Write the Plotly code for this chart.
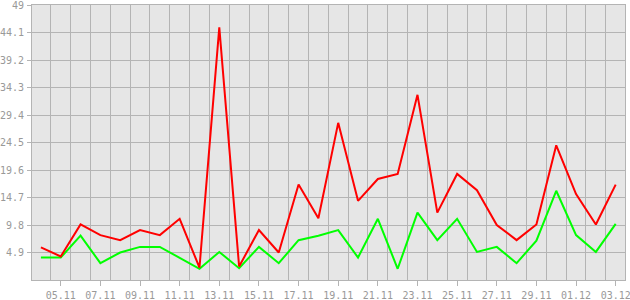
import plotly.graph_objects as go

dates = ["04.11", "05.11", "06.11", "07.11", "08.11", "09.11", "10.11", "11.11", "12.11", "13.11",
         "14.11", "15.11", "16.11", "17.11", "18.11", "19.11", "20.11", "21.11", "22.11", "23.11",
         "24.11", "25.11", "26.11", "27.11", "28.11", "29.11", "30.11", "01.12", "02.12", "03.12"]

red_values = [5.8, 4.2, 9.9, 8.0, 7.1, 8.9, 8.0, 10.9, 2.2, 45.0,
              2.4, 8.9, 4.9, 17.0, 11.0, 28.0, 14.1, 18.0, 18.9, 33.0,
              12.0, 18.9, 16.0, 9.8, 7.1, 9.9, 24.0, 15.3, 9.9, 17.0]

green_values = [4.0, 4.0, 7.9, 3.0, 4.9, 5.9, 5.9, 4.0, 2.0, 5.0,
                2.1, 5.9, 3.0, 7.1, 7.9, 8.9, 4.0, 10.9, 2.0, 12.0,
                7.1, 10.9, 5.0, 5.9, 3.0, 7.0, 15.9, 8.0, 5.0, 10.0]

y_ticks = [4.9, 9.8, 14.7, 19.6, 24.5, 29.4, 34.3, 39.2, 44.1, 49]
y_tick_labels = ["4.9", "9.8", "14.7", "19.6", "24.5", "29.4", "34.3", "39.2", "44.1", "49"]

idx = list(range(len(dates)))
x_tick_idx = idx[1::2]
x_tick_labels = dates[1::2]

grid = "#b4b4b4"
font = dict(family="DejaVu Sans Mono", size=10, color="#999999")

fig = go.Figure()
fig.add_trace(go.Scatter(x=idx, y=green_values, mode="lines",
                         line=dict(color="#00ff00", width=2), showlegend=False))
fig.add_trace(go.Scatter(x=idx, y=red_values, mode="lines",
                         line=dict(color="#ff0000", width=2), showlegend=False))

fig.update_layout(
    width=630, height=300,
    margin=dict(l=32, r=5, t=5, b=20),
    paper_bgcolor="white", plot_bgcolor="#e6e6e6",
    font=font,
)
fig.update_xaxes(
    range=[-0.45, 29.47], automargin=False, ticklabeloverflow="allow",
    tickmode="array", tickvals=x_tick_idx, ticktext=x_tick_labels,
    showgrid=False, zeroline=False,
    ticks="outside", ticklen=5, tickcolor=grid, tickwidth=1,
    showline=True, linecolor=grid, linewidth=1, mirror=True,
    tickfont=font, ticklabelstandoff=1,
    minor=dict(tick0=0.5, dtick=1, showgrid=True, gridcolor=grid, gridwidth=1, ticklen=0),
)
fig.update_yaxes(
    range=[0, 49], automargin=False, ticklabeloverflow="allow",
    tickmode="array", tickvals=y_ticks, ticktext=y_tick_labels,
    showgrid=True, gridcolor=grid, gridwidth=1, zeroline=False,
    ticks="outside", ticklen=4, tickcolor=grid, tickwidth=1,
    showline=True, linecolor=grid, linewidth=1, mirror=True,
    tickfont=font, ticklabelstandoff=1,
)

fig.write_html("out.html")
